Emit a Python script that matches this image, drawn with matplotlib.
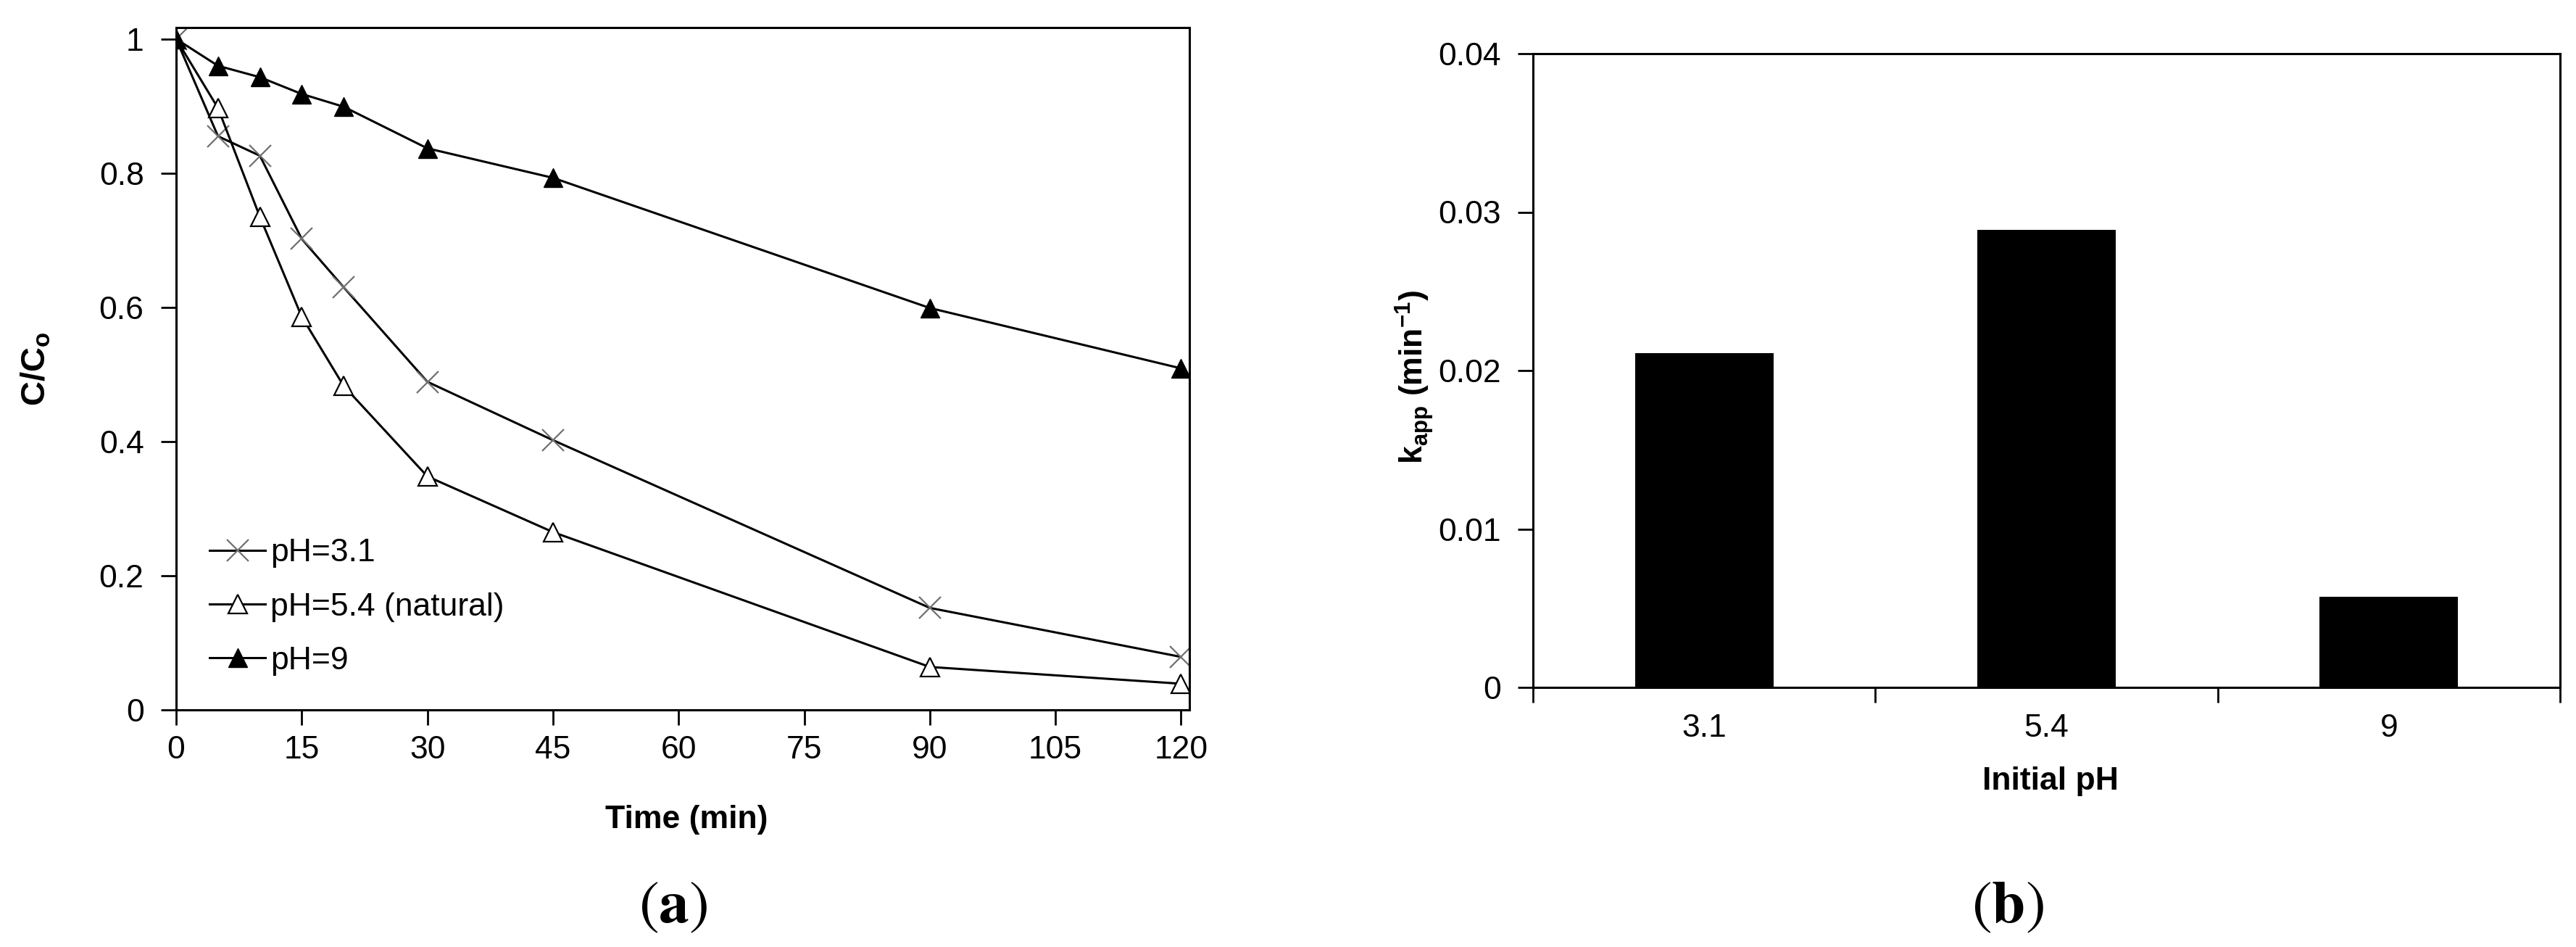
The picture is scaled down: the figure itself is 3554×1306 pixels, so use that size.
import matplotlib
matplotlib.use("Agg")
import matplotlib.pyplot as plt
from matplotlib.ticker import FixedLocator

plt.rcParams['font.family'] = ['Liberation Sans', 'DejaVu Sans']

# (a) C/Co vs time
time_min = [0, 5, 10, 15, 20, 30, 45, 90, 120]
ph31 = [1.0, 0.855, 0.826, 0.702, 0.630, 0.489, 0.402, 0.152, 0.079]
ph54 = [1.0, 0.897, 0.735, 0.586, 0.483, 0.348, 0.265, 0.064, 0.039]
ph9 = [1.0, 0.960, 0.943, 0.918, 0.899, 0.837, 0.793, 0.599, 0.509]
series_labels = ["pH=3.1", "pH=5.4 (natural)", "pH=9"]
x_ticks = [0, 15, 30, 45, 60, 75, 90, 105, 120]
y_ticks_a = [0, 0.2, 0.4, 0.6, 0.8, 1.0]
y_ticklabels_a = ["0", "0.2", "0.4", "0.6", "0.8", "1"]

# (b) apparent rate constants
ph_cats = ["3.1", "5.4", "9"]
k_app = [0.0211, 0.0289, 0.0057]
y_ticks_b = [0, 0.01, 0.02, 0.03, 0.04]
y_ticklabels_b = ["0", "0.01", "0.02", "0.03", "0.04"]

W, H = 3554, 1306
fig = plt.figure(figsize=(W / 100, H / 100), dpi=100)

FS = 32
ax1 = fig.add_axes([243 / W, 1 - 979 / H, 1398 / W, 941 / H])
ax1.plot(time_min, ph31, color="black", lw=2.2, marker="x", ms=22,
         mec="#707070", mew=1.6, label=series_labels[0])
ax1.plot(time_min, ph54, color="black", lw=2.2, marker="^", ms=19,
         mfc="white", mec="black", mew=1.6, label=series_labels[1])
ax1.plot(time_min, ph9, color="black", lw=2.2, marker="^", ms=19,
         mfc="black", mec="black", label=series_labels[2])
ax1.set_xlim(0, 121)
ax1.set_ylim(0, 1.017)
ax1.set_xticks(x_ticks)
ax1.set_yticks(y_ticks_a)
ax1.set_yticklabels(y_ticklabels_a)
ax1.tick_params(direction="out", length=15, width=2, labelsize=FS)
ax1.tick_params(axis="y", pad=17)
ax1.tick_params(axis="x", pad=10)
for s in ax1.spines.values():
    s.set_linewidth(2.2)
ax1.set_xlabel("Time (min)", fontsize=FS, fontweight="bold")
ax1.xaxis.set_label_coords(0.504, -0.139)
ax1.set_ylabel("C/C$_\\mathregular{o}$", fontsize=FS + 2, fontweight="bold")
ax1.yaxis.set_label_coords(-0.122, 0.5)
ax1.legend(loc="lower left", bbox_to_anchor=(0.033, 0.05), frameon=False,
           fontsize=FS, handlelength=1.73, handletextpad=0.15,
           labelspacing=0.75, borderpad=0, borderaxespad=0)

ax2 = fig.add_axes([2115 / W, 1 - 948 / H, 1417 / W, 874 / H])
pos = list(range(len(ph_cats)))
ax2.bar(pos, k_app, width=0.405, color="black")
ax2.set_xlim(-0.5, 2.5)
ax2.set_ylim(0, 0.04)
ax2.set_xticks(pos)
ax2.set_xticklabels(ph_cats)
ax2.xaxis.set_minor_locator(FixedLocator([-0.5, 0.5, 1.5, 2.5]))
ax2.tick_params(axis="x", which="major", length=0, pad=26, labelsize=FS)
ax2.tick_params(axis="x", which="minor", direction="out", length=15, width=2)
ax2.set_yticks(y_ticks_b)
ax2.set_yticklabels(y_ticklabels_b)
ax2.tick_params(axis="y", direction="out", length=15, width=2, pad=17, labelsize=FS)
for s in ax2.spines.values():
    s.set_linewidth(2.2)
ax2.set_xlabel("Initial pH", fontsize=FS, fontweight="bold")
ax2.xaxis.set_label_coords(0.504, -0.125)
ax2.set_ylabel("k$_\\mathregular{app}$ (min$^\\mathregular{-1}$)", fontsize=FS, fontweight="bold")
ax2.yaxis.set_label_coords(-0.095, 0.49)

fig.text(929 / W, 1 - 1250 / H, r"$(\mathbf{a})$", fontsize=60, math_fontfamily="stix",
         ha="center", va="center")
fig.text(2770 / W, 1 - 1250 / H, r"$(\mathbf{b})$", fontsize=60, math_fontfamily="stix",
         ha="center", va="center")

fig.savefig("out.png", dpi=100, facecolor="white")
